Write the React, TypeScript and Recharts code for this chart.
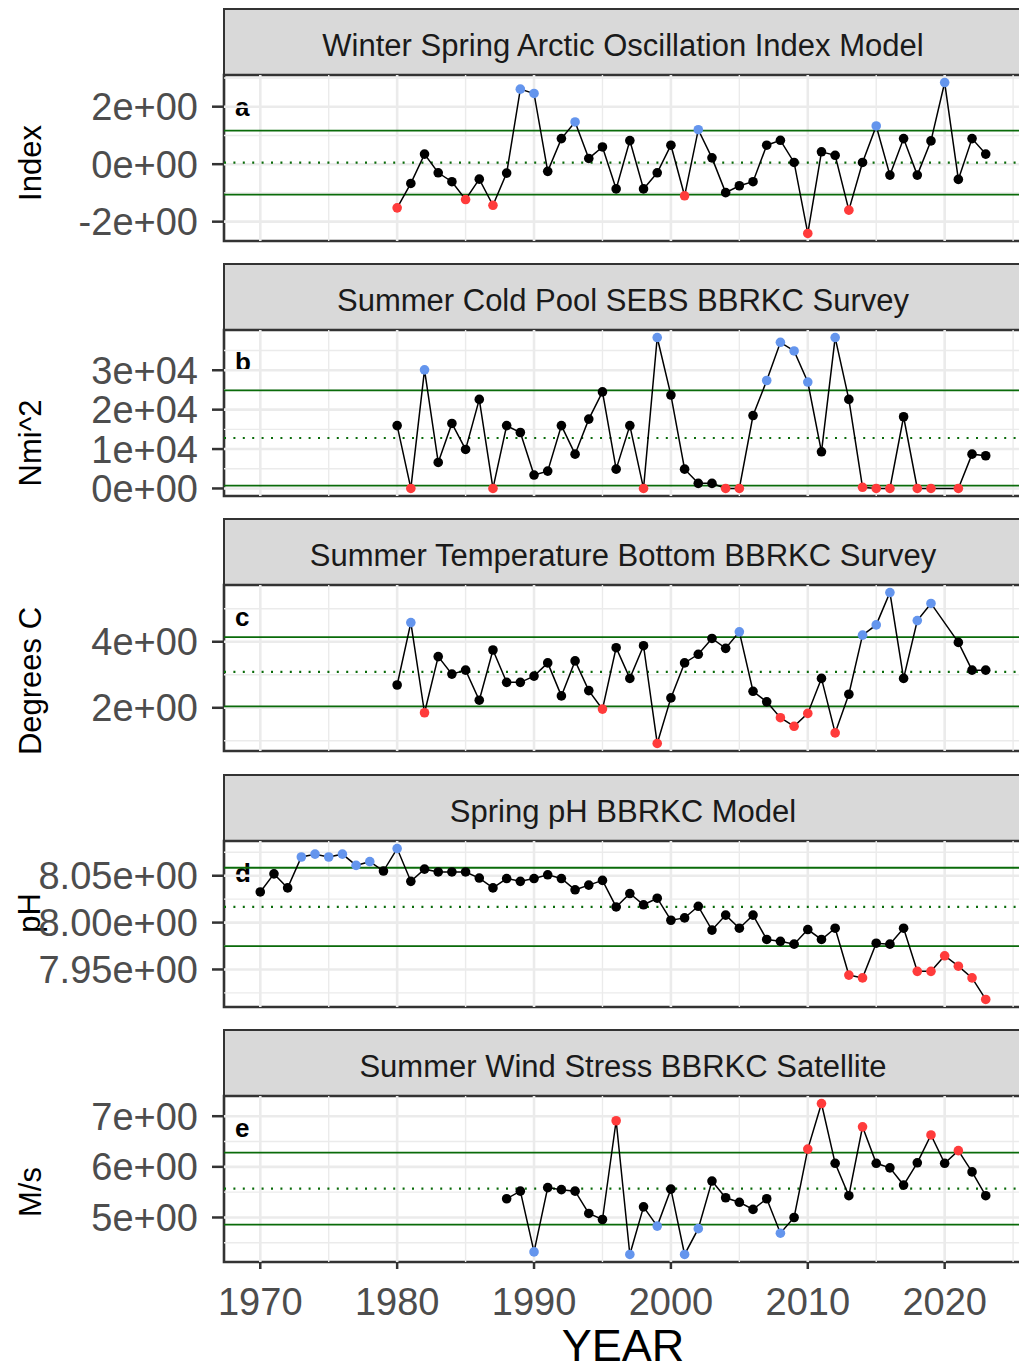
import React from 'react';
import { ComposedChart, Line, XAxis, YAxis, ReferenceLine, ReferenceArea } from 'recharts';

const FONT = '"Liberation Sans", Arial, Helvetica, sans-serif';

// ---------- shared x axis ----------
const xTicks = [1970, 1980, 1990, 2000, 2010, 2020];
const xMinor = [1975, 1985, 1995, 2005, 2015, 2025];
const xDomain: [number, number] = [1967.35, 2025.65];
const xTitle = 'YEAR';

// ---------- panel a ----------
const titleA = 'Winter Spring Arctic Oscillation Index Model';
const yLabelA = 'Index';
const yearsA = [1980, 1981, 1982, 1983, 1984, 1985, 1986, 1987, 1988, 1989, 1990, 1991, 1992, 1993, 1994, 1995, 1996, 1997, 1998, 1999, 2000, 2001, 2002, 2003, 2004, 2005, 2006, 2007, 2008, 2009, 2010, 2011, 2012, 2013, 2014, 2015, 2016, 2017, 2018, 2019, 2020, 2021, 2022, 2023];
const valuesA = [-1.52, -0.67, 0.35, -0.30, -0.61, -1.23, -0.52, -1.43, -0.31, 2.61, 2.46, -0.25, 0.89, 1.47, 0.20, 0.60, -0.86, 0.82, -0.86, -0.30, 0.66, -1.10, 1.20, 0.22, -0.99, -0.75, -0.61, 0.66, 0.83, 0.06, -2.41, 0.43, 0.31, -1.60, 0.06, 1.33, -0.38, 0.89, -0.38, 0.81, 2.84, -0.53, 0.89, 0.35];
const statsA = { mean: 0.055, upper: 1.17, lower: -1.06 };
const ticksA = [-2, 0, 2];
const tickLabelsA = ['-2e+00', '0e+00', '2e+00'];
const minorA = [-3, -1, 1, 3];

// ---------- panel b ----------
const titleB = 'Summer Cold Pool SEBS BBRKC Survey';
const yLabelB = 'Nmi^2';
const yearsB = [1980, 1981, 1982, 1983, 1984, 1985, 1986, 1987, 1988, 1989, 1990, 1991, 1992, 1993, 1994, 1995, 1996, 1997, 1998, 1999, 2000, 2001, 2002, 2003, 2004, 2005, 2006, 2007, 2008, 2009, 2010, 2011, 2012, 2013, 2014, 2015, 2016, 2017, 2018, 2019, 2021, 2022, 2023];
const valuesB = [15950, 0, 30100, 6600, 16500, 9900, 22600, 0, 15950, 14200, 3400, 4400, 15950, 8700, 17600, 24500, 4900, 15950, 0, 38300, 23700, 4900, 1300, 1300, 0, 0, 18500, 27400, 37100, 34900, 27000, 9300, 38300, 22600, 300, 0, 0, 18200, 0, 0, 0, 8700, 8300];
const statsB = { mean: 12800, upper: 24900, lower: 700 };
const ticksB = [0, 10000, 20000, 30000];
const tickLabelsB = ['0e+00', '1e+04', '2e+04', '3e+04'];
const minorB = [5000, 15000, 25000, 35000];

// ---------- panel c ----------
const titleC = 'Summer Temperature Bottom BBRKC Survey';
const yLabelC = 'Degrees C';
const yearsC = [1980, 1981, 1982, 1983, 1984, 1985, 1986, 1987, 1988, 1989, 1990, 1991, 1992, 1993, 1994, 1995, 1996, 1997, 1998, 1999, 2000, 2001, 2002, 2003, 2004, 2005, 2006, 2007, 2008, 2009, 2010, 2011, 2012, 2013, 2014, 2015, 2016, 2017, 2018, 2019, 2021, 2022, 2023];
const valuesC = [2.69, 4.58, 1.85, 3.55, 3.02, 3.14, 2.23, 3.75, 2.77, 2.77, 2.96, 3.36, 2.36, 3.42, 2.52, 1.96, 3.82, 2.89, 3.88, 0.92, 2.30, 3.36, 3.62, 4.10, 3.80, 4.30, 2.50, 2.18, 1.70, 1.44, 1.83, 2.89, 1.24, 2.41, 4.20, 4.51, 5.49, 2.89, 4.64, 5.16, 3.98, 3.14, 3.14];
const statsC = { mean: 3.09, upper: 4.14, lower: 2.04 };
const ticksC = [2, 4];
const tickLabelsC = ['2e+00', '4e+00'];
const minorC = [1, 3, 5];

// ---------- panel d ----------
const titleD = 'Spring pH BBRKC Model';
const yLabelD = 'pH';
const yearsD = [1970, 1971, 1972, 1973, 1974, 1975, 1976, 1977, 1978, 1979, 1980, 1981, 1982, 1983, 1984, 1985, 1986, 1987, 1988, 1989, 1990, 1991, 1992, 1993, 1994, 1995, 1996, 1997, 1998, 1999, 2000, 2001, 2002, 2003, 2004, 2005, 2006, 2007, 2008, 2009, 2010, 2011, 2012, 2013, 2014, 2015, 2016, 2017, 2018, 2019, 2020, 2021, 2022, 2023];
const valuesD = [8.0327, 8.052, 8.037, 8.070, 8.073, 8.070, 8.073, 8.061, 8.065, 8.055, 8.079, 8.044, 8.057, 8.054, 8.054, 8.054, 8.0475, 8.037, 8.047, 8.044, 8.047, 8.051, 8.047, 8.035, 8.040, 8.045, 8.0167, 8.031, 8.019, 8.026, 8.0025, 8.005, 8.0174, 7.992, 8.008, 7.994, 8.008, 7.982, 7.980, 7.977, 7.9926, 7.982, 7.994, 7.944, 7.941, 7.978, 7.977, 7.994, 7.948, 7.948, 7.9646, 7.9535, 7.941, 7.918];
const statsD = { mean: 8.01675, upper: 8.0585, lower: 7.975 };
const ticksD = [7.95, 8.0, 8.05];
const tickLabelsD = ['7.95e+00', '8.00e+00', '8.05e+00'];
const minorD = [7.925, 7.975, 8.025, 8.075];

// ---------- panel e ----------
const titleE = 'Summer Wind Stress BBRKC Satellite';
const yLabelE = 'M/s';
const yearsE = [1988, 1989, 1990, 1991, 1992, 1993, 1994, 1995, 1996, 1997, 1998, 1999, 2000, 2001, 2002, 2003, 2004, 2005, 2006, 2007, 2008, 2009, 2010, 2011, 2012, 2013, 2014, 2015, 2016, 2017, 2018, 2019, 2020, 2021, 2022, 2023];
const valuesE = [5.37, 5.52, 4.32, 5.59, 5.55, 5.52, 5.08, 4.96, 6.91, 4.27, 5.21, 4.83, 5.56, 4.27, 4.78, 5.72, 5.39, 5.30, 5.16, 5.37, 4.69, 5.00, 6.35, 7.25, 6.07, 5.43, 6.79, 6.07, 5.98, 5.64, 6.08, 6.63, 6.07, 6.32, 5.90, 5.43];
const statsE = { mean: 5.57, upper: 6.28, lower: 4.86 };
const ticksE = [5, 6, 7];
const tickLabelsE = ['5e+00', '6e+00', '7e+00'];
const minorE = [4.5, 5.5, 6.5];

// ---------- styling / layout ----------
const BLUE = '#6495ED';
const RED = '#FF3B3B';
const GREEN = '#0a6b0a';
const BORDER = '#333333';
const GRID = '#ebebeb';
const PLOT_LEFT = 224;
const PLOT_RIGHT = 1022;
const CHART_W = 1040;
const PLOT_H = 166;
const STRIP_H = 68;
const X_AXIS_H = 109;
const PAD = 45;
const TICK_FS = 38;

type Cfg = {
  title: string; yLabel: string; letter: string;
  years: number[]; values: number[];
  stats: { mean: number; upper: number; lower: number };
  ticks: number[]; tickLabels: string[]; minor: number[];
  hiColor: string; loColor: string;
  plotTop: number; yLabelCenter: number; yLabelX: number;
};

const panels: Cfg[] = [
  { title: titleA, yLabel: yLabelA, letter: 'a', years: yearsA, values: valuesA, stats: statsA, ticks: ticksA, tickLabels: tickLabelsA, minor: minorA, hiColor: BLUE, loColor: RED, plotTop: 75, yLabelCenter: 88, yLabelX: 41 },
  { title: titleB, yLabel: yLabelB, letter: 'b', years: yearsB, values: valuesB, stats: statsB, ticks: ticksB, tickLabels: tickLabelsB, minor: minorB, hiColor: BLUE, loColor: RED, plotTop: 330, yLabelCenter: 113, yLabelX: 41 },
  { title: titleC, yLabel: yLabelC, letter: 'c', years: yearsC, values: valuesC, stats: statsC, ticks: ticksC, tickLabels: tickLabelsC, minor: minorC, hiColor: BLUE, loColor: RED, plotTop: 585, yLabelCenter: 96, yLabelX: 41 },
  { title: titleD, yLabel: yLabelD, letter: 'd', years: yearsD, values: valuesD, stats: statsD, ticks: ticksD, tickLabels: tickLabelsD, minor: minorD, hiColor: BLUE, loColor: RED, plotTop: 841, yLabelCenter: 72, yLabelX: 40 },
  { title: titleE, yLabel: yLabelE, letter: 'e', years: yearsE, values: valuesE, stats: statsE, ticks: ticksE, tickLabels: tickLabelsE, minor: minorE, hiColor: RED, loColor: BLUE, plotTop: 1096, yLabelCenter: 96, yLabelX: 41 },
];

function padDomain(vals: number[]): [number, number] {
  const mn = Math.min(...vals);
  const mx = Math.max(...vals);
  const r = mx - mn;
  return [mn - 0.05 * r, mx + 0.05 * r];
}

function Strip({ cfg }: { cfg: Cfg }) {
  return (
    <div
      style={{
        position: 'absolute', left: PLOT_LEFT - 1, top: cfg.plotTop - STRIP_H + 1, width: 800, height: STRIP_H,
        boxSizing: 'border-box', border: `2.6px solid ${BORDER}`, background: '#d9d9d9',
        display: 'flex', alignItems: 'center', justifyContent: 'center', paddingTop: 8,
        fontFamily: FONT, fontSize: 31, color: '#1a1a1a', whiteSpace: 'nowrap',
      }}
    >
      {cfg.title}
    </div>
  );
}

function Panel({ cfg, last }: { cfg: Cfg; last: boolean }) {
  const [lo, hi] = padDomain(cfg.values);
  const data = cfg.years.map((y, i) => ({ year: y, v: cfg.values[i] }));
  const chartH = PAD + PLOT_H + (last ? X_AXIS_H : 0) + PAD;

  const renderDot = (props: any) => {
    const { cx, cy, payload, index } = props;
    if (cx == null || cy == null) return <g key={`d${index}`} />;
    const v = payload.v;
    const fill = v > cfg.stats.upper ? cfg.hiColor : v < cfg.stats.lower ? cfg.loColor : '#000000';
    return <circle key={`d${index}`} cx={cx} cy={cy} r={4.8} fill={fill} stroke="none" />;
  };

  const yl = PAD + cfg.yLabelCenter;

  return (
    <div style={{ position: 'absolute', left: 0, top: cfg.plotTop - PAD, width: CHART_W, height: chartH }}>
      <ComposedChart
        width={CHART_W}
        height={chartH}
        data={data}
        margin={{ top: PAD, right: CHART_W - PLOT_RIGHT, bottom: PAD, left: 0 }}
      >
        <XAxis
          type="number"
          dataKey="year"
          domain={xDomain}
          allowDataOverflow
          ticks={xTicks}
          interval={0}
          hide={!last}
          height={X_AXIS_H}
          axisLine={false}
          tickLine={{ stroke: BORDER, strokeWidth: 2.5 }}
          tickSize={7}
          tickMargin={19}
          tick={{ fontSize: TICK_FS, fill: '#4d4d4d', fontFamily: FONT }}
          label={{
            content: () => (
              <text x={(PLOT_LEFT + PLOT_RIGHT) / 2} y={PAD + PLOT_H + 99} textAnchor="middle" fontSize={45} fill="#000" fontFamily={FONT}>
                {xTitle}
              </text>
            ),
          }}
        />
        <YAxis
          type="number"
          domain={[lo, hi]}
          allowDataOverflow
          ticks={cfg.ticks}
          interval={0}
          width={PLOT_LEFT}
          axisLine={false}
          tickLine={{ stroke: BORDER, strokeWidth: 2.5 }}
          tickSize={12}
          tickMargin={14}
          tick={{ fontSize: TICK_FS, fill: '#4d4d4d', fontFamily: FONT }}
          tickFormatter={(v: number) => {
            const i = cfg.ticks.indexOf(v);
            return i >= 0 ? cfg.tickLabels[i] : String(v);
          }}
          label={{
            content: () => (
              <text
                x={cfg.yLabelX}
                y={yl}
                transform={`rotate(-90 ${cfg.yLabelX} ${yl})`}
                textAnchor="middle"
                fontSize={31}
                fill="#000"
                fontFamily={FONT}
              >
                {cfg.yLabel}
              </text>
            ),
          }}
        />
        {xMinor.map((x) => (
          <ReferenceLine key={`xm${x}`} x={x} stroke={GRID} strokeWidth={1.4} />
        ))}
        {cfg.minor.map((y) => (
          <ReferenceLine key={`ym${y}`} y={y} stroke={GRID} strokeWidth={1.4} />
        ))}
        {xTicks.map((x) => (
          <ReferenceLine key={`xM${x}`} x={x} stroke={GRID} strokeWidth={2.6} />
        ))}
        {cfg.ticks.map((y) => (
          <ReferenceLine key={`yM${y}`} y={y} stroke={GRID} strokeWidth={2.6} />
        ))}
        <ReferenceLine y={cfg.stats.upper} stroke={GREEN} strokeWidth={1.8} />
        <ReferenceLine y={cfg.stats.lower} stroke={GREEN} strokeWidth={1.8} />
        <ReferenceLine y={cfg.stats.mean} stroke={GREEN} strokeWidth={2.2} strokeDasharray="2 7.4" />
        <Line
          type="linear"
          dataKey="v"
          stroke="#000"
          strokeWidth={1.5}
          dot={renderDot}
          activeDot={false}
          isAnimationActive={false}
        />
        <ReferenceArea
          x1={xDomain[0]}
          x2={xDomain[1]}
          y1={lo}
          y2={hi}
          ifOverflow="visible"
          fill="none"
          fillOpacity={0}
          stroke={BORDER}
          strokeWidth={2.6}
          label={{
            content: () => (
              <text x={PLOT_LEFT + 11} y={PAD + 41} fontSize={26} fontWeight="bold" fill="#000" fontFamily={FONT}>
                {cfg.letter}
              </text>
            ),
          }}
        />
      </ComposedChart>
    </div>
  );
}

export default function App() {
  return (
    <div
      style={{
        position: 'absolute', left: 0, top: 0, width: 1019, height: 1371,
        overflow: 'hidden', background: '#ffffff', fontFamily: FONT,
      }}
    >
      {panels.map((p) => (
        <Strip key={`s${p.letter}`} cfg={p} />
      ))}
      {panels.map((p, i) => (
        <Panel key={p.letter} cfg={p} last={i === panels.length - 1} />
      ))}
    </div>
  );
}
